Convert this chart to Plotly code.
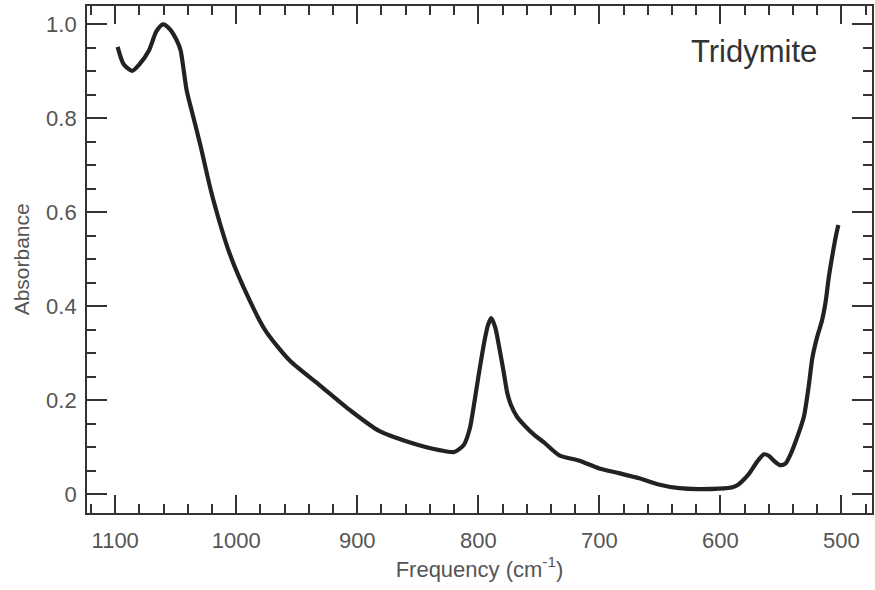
import plotly.graph_objects as go

# Tridymite absorbance spectrum
frequency = [1098, 1093, 1086, 1080, 1072, 1066, 1060.4, 1055, 1049, 1046, 1041, 1037, 1030,
             1020, 1005, 989, 976, 956, 931, 906, 882, 857, 832, 820, 812, 807, 803, 799, 795,
             792, 789.3, 786, 783, 779, 776, 773, 768, 762, 754, 746, 733, 717, 700, 684,
             667, 651, 634, 618, 601, 590, 585, 580, 576, 570, 564, 560, 556, 550.5, 546,
             542, 536, 531, 527, 524, 520, 516, 513, 510.5, 507, 504.5, 502.5]
absorbance = [0.952, 0.915, 0.901, 0.915, 0.945, 0.985, 1.0, 0.99, 0.965, 0.945, 0.86, 0.818, 0.747,
              0.637, 0.509, 0.413, 0.349, 0.285, 0.232, 0.179, 0.135, 0.111, 0.094, 0.09, 0.105,
              0.14, 0.2, 0.265, 0.325, 0.36, 0.375, 0.355, 0.317, 0.26, 0.215, 0.19, 0.165,
              0.147, 0.127, 0.111, 0.083, 0.072, 0.055, 0.045, 0.034, 0.021, 0.013, 0.011,
              0.012, 0.015, 0.021, 0.033, 0.045, 0.068, 0.085, 0.082, 0.072, 0.062, 0.066,
              0.085, 0.125, 0.165, 0.23, 0.29, 0.335, 0.37, 0.41, 0.46, 0.515, 0.55, 0.573]

x_ticks = [1100, 1000, 900, 800, 700, 600, 500]
x_tick_labels = ["1100", "1000", "900", "800", "700", "600", "500"]
y_ticks = [0, 0.2, 0.4, 0.6, 0.8, 1.0]
y_tick_labels = ["0", "0.2", "0.4", "0.6", "0.8", "1.0"]

axis_col = "#333333"
label_col = "#555555"
font_fam = "Liberation Sans, Arial, sans-serif"

fig = go.Figure()
fig.add_trace(go.Scatter(
    x=frequency, y=absorbance, mode="lines",
    line=dict(color="#222222", width=4.2, shape="spline", smoothing=0.7),
    showlegend=False, hoverinfo="skip",
))

fig.update_layout(
    width=875, height=590,
    margin=dict(l=87, r=1, t=6, b=77),
    paper_bgcolor="white", plot_bgcolor="white",
    font=dict(family=font_fam, color=label_col, size=22),
    xaxis=dict(
        range=[1123.3, 474.7], tickvals=x_ticks, ticktext=x_tick_labels,
        ticks="inside", ticklen=18, tickwidth=1.5, tickcolor=axis_col,
        showline=True, linecolor=axis_col, linewidth=1.8, mirror="allticks",
        showgrid=False, zeroline=False, ticklabelstandoff=7,
        minor=dict(dtick=20, ticks="inside", ticklen=9, tickwidth=1.5, tickcolor=axis_col, showgrid=False),
        tickfont=dict(size=22, color=label_col),
        title=dict(text="Frequency (cm<sup>-1</sup>)", font=dict(size=22, color=label_col), standoff=4),
    ),
    yaxis=dict(
        range=[-0.0398, 1.039], tickvals=y_ticks, ticktext=y_tick_labels,
        ticks="inside", ticklen=20, tickwidth=1.5, tickcolor=axis_col,
        showline=True, linecolor=axis_col, linewidth=1.8, mirror="allticks",
        showgrid=False, zeroline=False, ticklabelstandoff=4,
        minor=dict(dtick=0.05, ticks="inside", ticklen=9, tickwidth=1.5, tickcolor=axis_col, showgrid=False),
        tickfont=dict(size=22, color=label_col),
    ),
    annotations=[
        dict(
            text="Tridymite", x=0.85, y=0.91, xref="paper", yref="paper",
            showarrow=False, font=dict(size=31, color="#333333", family=font_fam),
            xanchor="center", yanchor="middle",
        ),
        dict(
            text="Absorbance", x=-0.083, y=0.5, xref="paper", yref="paper",
            showarrow=False, textangle=-90, font=dict(size=21, color=label_col, family=font_fam),
            xanchor="center", yanchor="middle",
        ),
    ],
)

fig.write_html("out.html")
